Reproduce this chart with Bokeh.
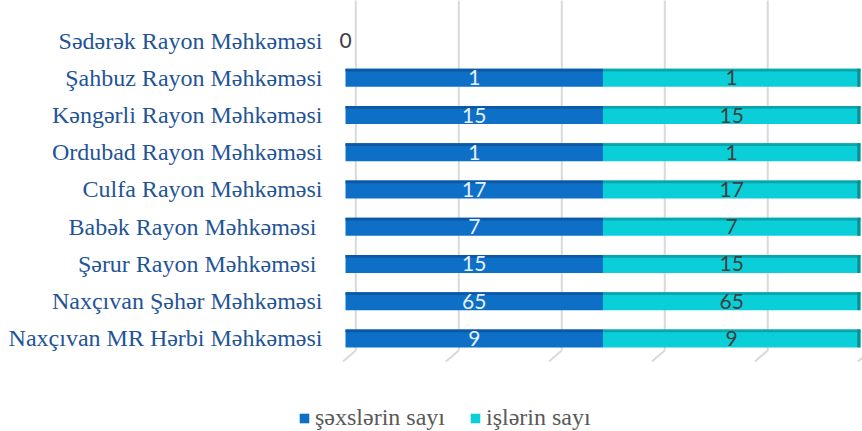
import numpy as np
from bokeh.plotting import figure
from bokeh.models import Range1d, FixedTicker, ColumnDataSource, Legend, LegendItem
from bokeh.core.properties import value
from bokeh.embed import file_html
from bokeh.resources import INLINE

# ---- data (bottom to top) ----
courts = [
    "Naxçıvan MR Hərbi Məhkəməsi",
    "Naxçıvan Şəhər Məhkəməsi",
    "Şərur Rayon Məhkəməsi ",
    "Babək Rayon Məhkəməsi ",
    "Culfa Rayon Məhkəməsi",
    "Ordubad Rayon Məhkəməsi",
    "Kəngərli Rayon Məhkəməsi",
    "Şahbuz Rayon Məhkəməsi",
    "Sədərək Rayon Məhkəməsi",
]
persons = [9, 65, 15, 7, 17, 1, 15, 1, 0]
cases = [9, 65, 15, 7, 17, 1, 15, 1, 0]
series_names = ["şəxslərin sayı", "işlərin sayı"]
grid_ticks = [0, 0.2, 0.4, 0.6, 0.8, 1.0]

# ---- style ----
BLUE = "#0E6FC7"
BLUE_TOP = "#0B58A6"
CYAN = "#0BCFD8"
CYAN_TOP = "#0AA4AC"
CAP = "#0A8E94"
GRID = "#D9D9D9"
BAR_H = 0.48
DEPTH_X = 0.02
SERIF = "'Liberation Serif', 'DejaVu Serif', serif"

n = len(courts)
idx = np.arange(n)
p_arr = np.array(persons, dtype=float)
c_arr = np.array(cases, dtype=float)
tot = p_arr + c_arr
safe = np.where(tot > 0, tot, 1)
frac_p = np.where(tot > 0, p_arr / safe, 0.0)
frac_c = np.where(tot > 0, c_arr / safe, 0.0)
end_c = frac_p + frac_c

src = ColumnDataSource(dict(
    y=idx, y_top=idx + BAR_H / 2 - 0.035,
    p_right=frac_p, c_left=frac_p, c_right=end_c,
    cap_left=np.where(tot > 0, end_c - 0.006, 0), cap_right=end_c,
    p_mid=frac_p / 2, c_mid=frac_p + frac_c / 2,
    p_lab=[str(v) for v in persons], c_lab=[str(v) for v in cases],
))

p = figure(width=862, height=431, output_backend="svg", toolbar_location=None,
           x_range=Range1d(-0.67, 1.004), y_range=Range1d(-2.497, 9.074),
           min_border_left=0, min_border_right=0, min_border_top=0,
           min_border_bottom=0)
p.outline_line_color = None
p.xgrid.visible = False
p.ygrid.visible = False
p.xaxis.visible = False

yax = p.yaxis[0]
yax.fixed_location = 0
yax.ticker = FixedTicker(ticks=list(idx))
yax.major_label_overrides = {int(i): courts[i] for i in idx}
yax.axis_line_color = None
yax.major_tick_line_color = None
yax.minor_tick_line_color = None
yax.major_tick_out = 0
yax.major_tick_in = 0
yax.major_label_standoff = 23
yax.major_label_text_font = SERIF
yax.major_label_text_font_size = "24px"
yax.major_label_text_color = "#1F5597"

# back-wall grid lines and floor ticks
gx = np.array(grid_ticks)
p.segment(x0=gx + DEPTH_X, y0=np.full(len(gx), -0.32), x1=gx + DEPTH_X,
          y1=np.full(len(gx), n + 0.3), line_color=GRID, line_width=2)
p.segment(x0=gx + DEPTH_X, y0=np.full(len(gx), -0.32), x1=gx - 0.005,
          y1=np.full(len(gx), -0.62), line_color=GRID, line_width=2)

# bars
rb = p.hbar(y="y", left=0, right="p_right", height=BAR_H, source=src,
            fill_color=BLUE, line_color=None)
rc = p.hbar(y="y", left="c_left", right="c_right", height=BAR_H, source=src,
            fill_color=CYAN, line_color=None)
p.hbar(y="y_top", left=0, right="p_right", height=0.07, source=src,
       fill_color=BLUE_TOP, line_color=None)
p.hbar(y="y_top", left="c_left", right="c_right", height=0.07, source=src,
       fill_color=CYAN_TOP, line_color=None)
p.hbar(y="y", left="cap_left", right="cap_right", height=BAR_H, source=src,
       fill_color=CAP, line_color=None)

# data labels
p.text(x="p_mid", y="y", text="p_lab", source=src, text_align="center",
       text_baseline="middle", text_font=value("Lato"), text_font_size="21px",
       text_color="#E6F0FA")
p.text(x="c_mid", y="y", text="c_lab", source=src, text_align="center",
       text_baseline="middle", text_font=value("Lato"), text_font_size="21px",
       text_color="#404040")

legend = Legend(items=[LegendItem(label=series_names[0], renderers=[rb]),
                       LegendItem(label=series_names[1], renderers=[rc])],
                orientation="horizontal", location=(298, 0),
                label_text_font=SERIF, label_text_font_size="24px",
                label_text_color="#595959", glyph_width=12, glyph_height=12,
                label_standoff=5, spacing=24, padding=0, margin=0,
                border_line_color=None, background_fill_alpha=0)
p.add_layout(legend, "center")

open("out.html", "w").write(file_html(p, INLINE))
